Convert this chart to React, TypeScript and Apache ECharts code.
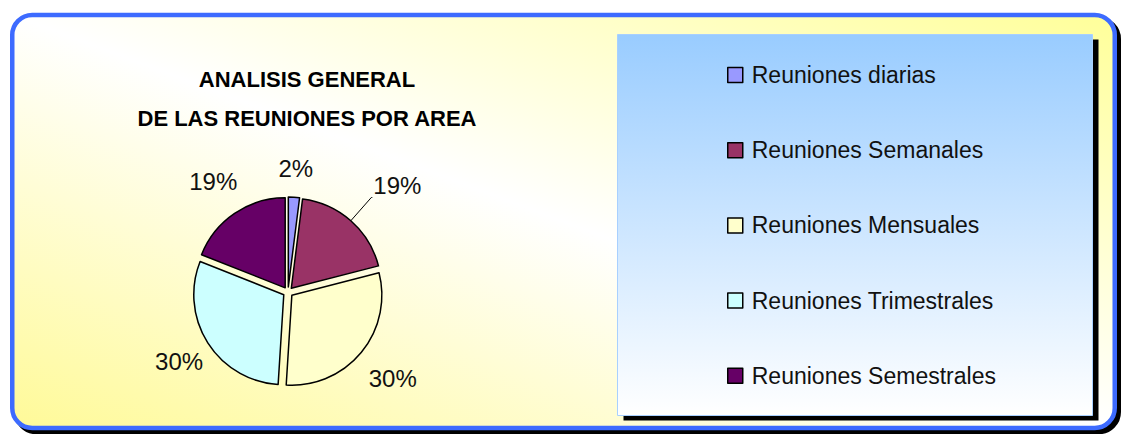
import React, { useEffect, useRef } from "react";
import * as echarts from "echarts";

const categories = [
  "Reuniones diarias",
  "Reuniones Semanales",
  "Reuniones Mensuales",
  "Reuniones Trimestrales",
  "Reuniones Semestrales",
];
const values = [2, 19, 30, 30, 19];
const sliceColors = ["#9999ff", "#993366", "#ffffcc", "#ccffff", "#660066"];
const titleLines = ["ANALISIS GENERAL", "DE LAS REUNIONES POR AREA"];

const FONT = '"Liberation Sans", Arial, sans-serif';
// label leader lengths per slice (styling only)
const LABEL_LEN = [29, 31, 41, 34, 38];
const LABEL_LEN2 = [0, 1, 0, 0, 0];
const LABEL_DIST = [0, 1, 0, 0, 0];

export default function App() {
  const ref = useRef<HTMLDivElement>(null);
  useEffect(() => {
    if (!ref.current) return;
    const chart = echarts.init(ref.current, undefined, { renderer: "svg" });
    const frameFill = new echarts.graphic.LinearGradient(0, 1, 1, 0, [
      { offset: 0, color: "#fffa98" },
      { offset: 0.5, color: "#ffffff" },
      { offset: 1, color: "#ffff99" },
    ]);
    const legendFill = new echarts.graphic.LinearGradient(0, 0, 0, 1, [
      { offset: 0, color: "#99ccff" },
      { offset: 1, color: "#ffffff" },
    ]);
    chart.setOption({
      animation: false,
      graphic: [
        {
          type: "rect",
          z: -10,
          shape: { x: 16.25, y: 19, width: 1102.5, height: 413, r: 20 },
          style: { fill: "#000", stroke: "#000", lineWidth: 4.5 },
          silent: true,
        },
        {
          type: "rect",
          z: -9,
          shape: { x: 12.25, y: 15, width: 1102.5, height: 413, r: 20 },
          style: { fill: frameFill, stroke: "#3d6bff", lineWidth: 4.5 },
          silent: true,
        },
        {
          type: "rect",
          z: -8,
          shape: { x: 623.5, y: 39.5, width: 475, height: 381 },
          style: { fill: "#000" },
          silent: true,
        },
        {
          type: "rect",
          z: -7,
          shape: { x: 617.5, y: 34.5, width: 475, height: 381 },
          style: { fill: legendFill, stroke: "#a8d0ff", lineWidth: 1 },
          silent: true,
        },
        {
          type: "text",
          z: 5,
          x: 307,
          y: 98.5,
          style: {
            text: titleLines.join("\n"),
            align: "center",
            verticalAlign: "middle",
            lineHeight: 39,
            fontSize: 22,
            fontWeight: "bold",
            fontFamily: FONT,
            fill: "#000",
          },
          silent: true,
        },
      ],
      legend: {
        orient: "vertical",
        left: 727,
        top: 63.5,
        padding: 0,
        itemWidth: 15,
        itemHeight: 15,
        itemGap: 52.2,
        icon: "rect",
        selectedMode: false,
        itemStyle: { borderColor: "#000", borderWidth: 1.5 },
        textStyle: {
          fontSize: 23,
          fontFamily: FONT,
          color: "#111",
          padding: [0, 0, 0, 4],
        },
        data: categories,
      },
      series: [
        {
          type: "pie",
          center: [288, 292],
          radius: 90,
          startAngle: 90,
          clockwise: true,
          selectedMode: "multiple",
          selectedOffset: 5,
          avoidLabelOverlap: false,
          silent: true,
          itemStyle: { borderColor: "#000", borderWidth: 1.5 },
          select: { itemStyle: { borderColor: "#000", borderWidth: 1.5 } },
          emphasis: { disabled: true },
          label: {
            show: true,
            position: "outside",
            formatter: "{d}%",
            fontSize: 24,
            fontFamily: FONT,
            color: "#111",
          },
          labelLayout: (p: any) =>
            p.dataIndex === 1
              ? { align: "left", verticalAlign: "bottom" }
              : { align: "center", verticalAlign: "middle" },
          data: categories.map((name, i) => ({
            name,
            value: values[i],
            selected: true,
            itemStyle: { color: sliceColors[i] },
            label: { distanceToLabelLine: LABEL_DIST[i] },
            labelLine: {
              show: i === 1,
              length: LABEL_LEN[i],
              length2: LABEL_LEN2[i],
              lineStyle: { color: "#000", width: 1 },
            },
          })),
        },
      ],
    });
    return () => chart.dispose();
  }, []);
  return (
    <div
      ref={ref}
      style={{ position: "absolute", left: 0, top: 0, width: 1123, height: 434 }}
    />
  );
}
